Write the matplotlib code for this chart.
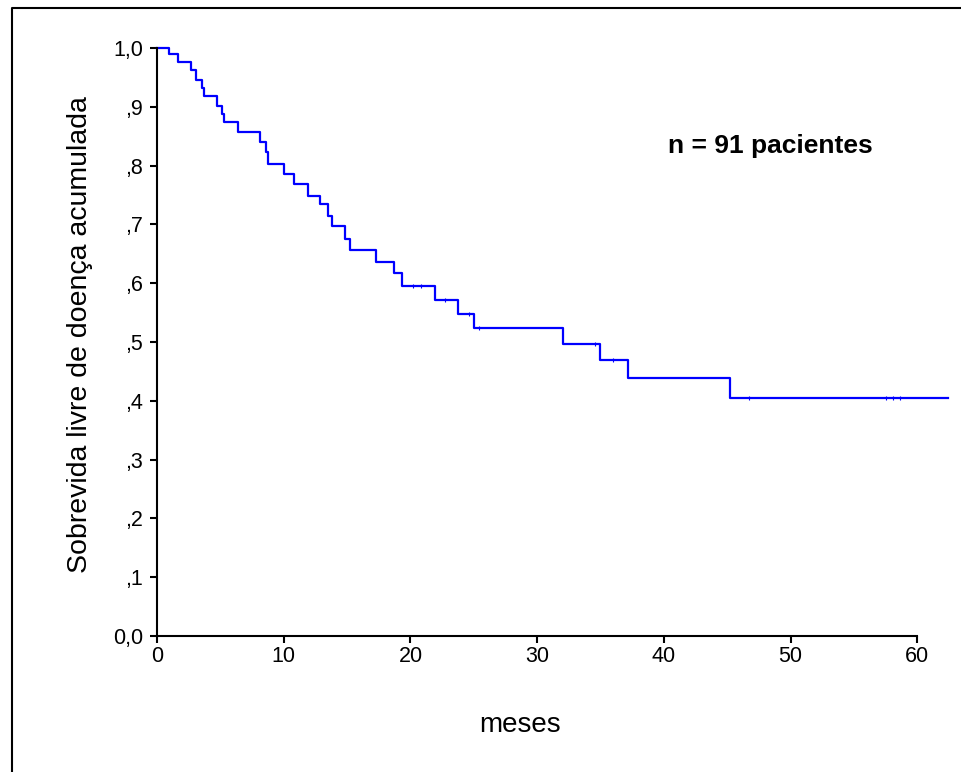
import matplotlib
matplotlib.use("Agg")
import matplotlib.pyplot as plt
from matplotlib.lines import Line2D

plt.rcParams['font.family'] = ['Liberation Sans', 'DejaVu Sans']

# Kaplan-Meier steps (months, cumulative survival)
meses = [0, 0.95, 1.66, 2.66, 3.08, 3.58, 3.71, 4.71, 5.16, 5.29, 6.42, 8.13,
         8.6, 8.74, 10.02, 10.81, 11.94, 12.9, 13.5, 13.8, 14.8, 15.23, 17.3,
         18.74, 19.34, 21.9, 23.76, 25.02, 32.0, 34.97, 37.2, 45.25, 62.45]
sobrevida = [1.0, 0.990, 0.976, 0.962, 0.946, 0.932, 0.918, 0.901, 0.888,
             0.875, 0.857, 0.840, 0.823, 0.802, 0.785, 0.768, 0.749, 0.735,
             0.714, 0.697, 0.676, 0.656, 0.636, 0.618, 0.595, 0.571, 0.548,
             0.523, 0.496, 0.469, 0.438, 0.404, 0.404]

# censored observations
censura_t = [20.2, 20.8, 22.7, 24.6, 25.4, 34.6, 36.0, 46.7, 57.5, 58.1, 58.6]
censura_s = [0.595, 0.595, 0.571, 0.548, 0.523, 0.496, 0.469, 0.404, 0.404, 0.404, 0.404]

xticks = [0, 10, 20, 30, 40, 50, 60]
yticks = [0, 0.1, 0.2, 0.3, 0.4, 0.5, 0.6, 0.7, 0.8, 0.9, 1.0]
ylabels = ["0,0", ",1", ",2", ",3", ",4", ",5", ",6", ",7", ",8", ",9", "1,0"]

W, H = 961, 772
fig = plt.figure(figsize=(W / 100, H / 100), dpi=100)
ax = fig.add_axes([157 / W, (H - 636) / H, 792 / W, 588 / H])

ax.step(meses, sobrevida, where='post', color='#0000ff', lw=1.6, clip_on=False)
ax.plot(censura_t, censura_s, ls='none', marker='|', ms=2.5, mew=0.8,
        color='#0000ff', clip_on=False)

ax.set_xlim(0, 62.5)
ax.set_ylim(0, 1)
ax.spines['top'].set_visible(False)
ax.spines['right'].set_visible(False)
ax.spines['left'].set_linewidth(1.5)
ax.spines['bottom'].set_linewidth(1.5)
ax.spines['bottom'].set_bounds(0, 60)

ax.set_xticks(xticks)
ax.set_xticklabels([str(t) for t in xticks])
ax.set_yticks(yticks)
ax.set_yticklabels(ylabels)
ax.tick_params(axis='both', labelsize=15.5, length=5, width=1.5, direction='out')
ax.tick_params(axis='y', pad=5)
ax.tick_params(axis='x', pad=2)

fig.text(520 / W, 1 - 725 / H, "meses", fontsize=20, ha='center', va='center')
fig.text(80 / W, 1 - 335 / H, "Sobrevida livre de doença acumulada", fontsize=20.5,
         rotation=90, ha='center', va='center')
fig.text(668 / W, 1 - 146 / H, "n = 91 pacientes", fontsize=19,
         fontweight='bold', ha='left', va='center')

# frame of the original picture: only top and left edges show
fig.add_artist(Line2D([12 / W, 12 / W, 1.0], [0.0, 1 - 8 / H, 1 - 8 / H],
                      transform=fig.transFigure, color='black', lw=1.5))

fig.savefig("out.png", dpi=100)
